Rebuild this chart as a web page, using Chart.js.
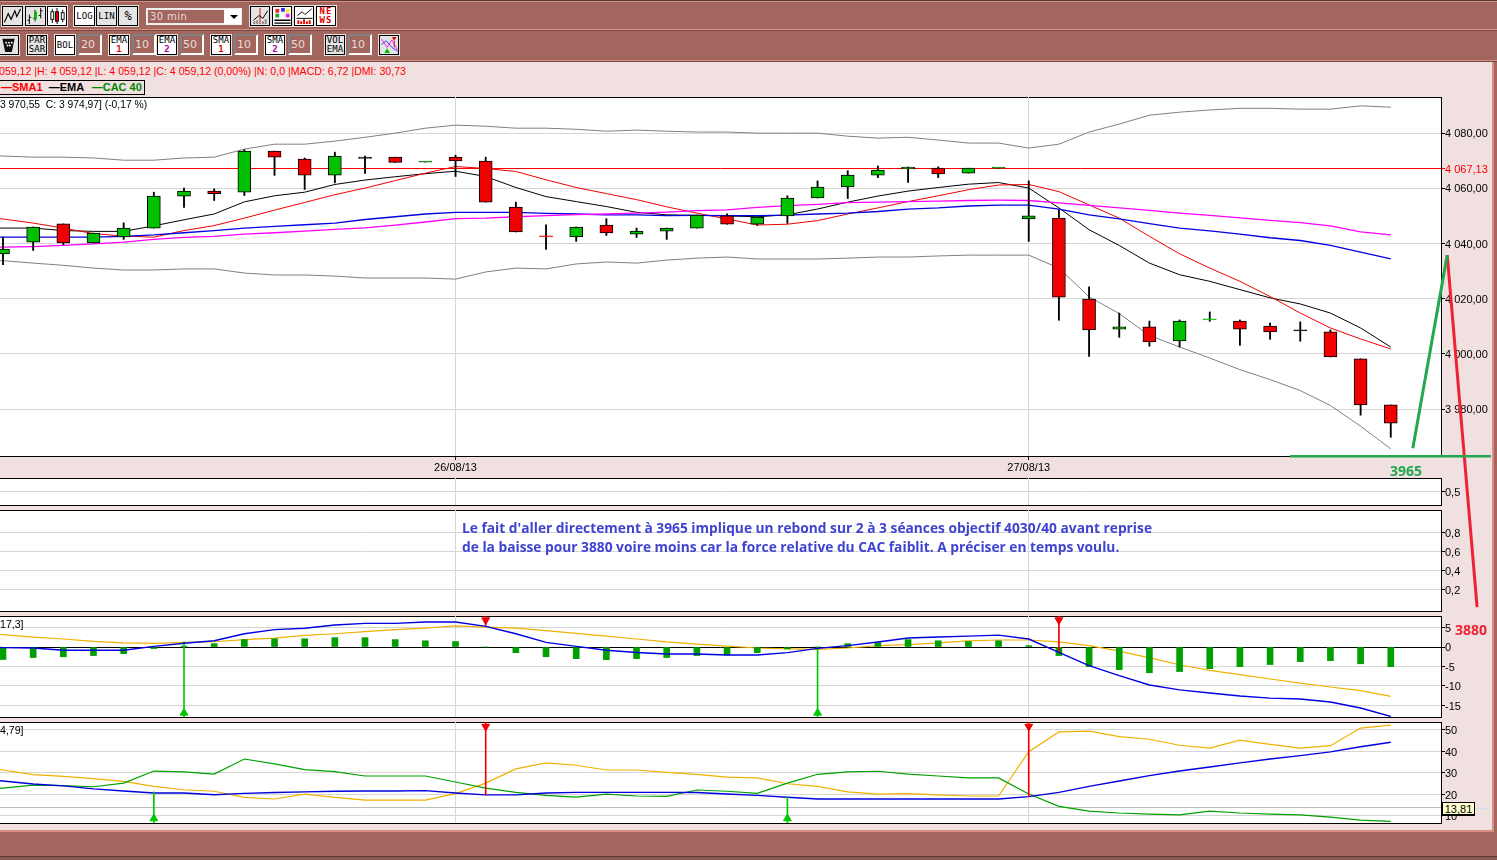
<!DOCTYPE html>
<html><head><meta charset="utf-8">
<style>
html,body{margin:0;padding:0;width:1497px;height:860px;overflow:hidden;background:#f0e0e0;font-family:"Liberation Sans",Arial,sans-serif;font-size:10.6px}
.abs,canvas{position:absolute}
.t{position:absolute;white-space:pre;line-height:13px}
.btn{position:absolute;box-sizing:border-box;border:1px solid #000;box-shadow:0 0 0 1px #e8e0dc;background:#fff;font:9px/9px "DejaVu Sans Mono",monospace;color:#000;text-align:center;display:flex;align-items:center;justify-content:center;flex-direction:column}
.inp{position:absolute;box-sizing:border-box;border:2px solid;border-color:#808080 #fff #fff #808080;background:#a2665e;color:#eadcd8;font:11px/17px "DejaVu Sans",sans-serif;padding-left:1px}
.panel{position:absolute;left:-2px;width:1444px;box-sizing:border-box;border:1px solid #000;background:#fff}
</style>
<script src="https://cdn.jsdelivr.net/npm/chart.js@4/dist/chart.umd.min.js"></script>
</head><body>
<script>
// ---- Data ----
const dateLabels = ['26/08/13','27/08/13'];
const dateIndex = [15,34];
const opens = [4036.2,4040.5,4047.1,4040.2,4042.4,4045.6,4057.2,4059.0,4058.6,4073.5,4070.6,4064.8,4070.8,4071.3,4069.5,4071.3,4069.9,4053.2,4042.4,4042.4,4046.7,4043.4,4044.5,4045.6,4050.0,4047.0,4050.0,4056.5,4060.5,4064.8,4067.0,4067.3,4065.5,4067.3,4048.9,4049.2,4019.9,4009.0,4009.8,4004.7,4012.3,4011.9,4010.1,4008.7,4008.0,3998.2,3981.5];
const closes = [4038.0,4046.0,4040.2,4043.8,4045.6,4057.2,4059.0,4058.1,4073.5,4071.3,4064.8,4071.7,4071.3,4069.4,4069.5,4069.9,4055.0,4044.2,4042.4,4046.0,4043.8,4044.5,4045.6,4050.3,4047.0,4049.6,4056.5,4060.5,4064.8,4066.6,4067.7,4065.2,4067.3,4067.3,4050.0,4020.6,4008.7,4009.8,4004.3,4011.9,4012.3,4009.0,4008.0,4008.3,3998.9,3981.5,3974.9];
const highs = [4042.2,4046.0,4047.1,4043.8,4047.5,4058.6,4060.1,4059.8,4074.0,4073.5,4071.0,4073.1,4071.7,4071.3,4069.5,4072.0,4071.3,4055.0,4046.8,4046.0,4049.0,4045.6,4045.6,4050.3,4050.8,4049.6,4057.3,4062.7,4066.4,4068.1,4067.7,4067.8,4067.3,4067.3,4062.7,4052.1,4024.3,4014.8,4011.9,4012.3,4015.2,4012.3,4011.2,4011.6,4008.7,3998.2,3981.5];
const lows = [4032.3,4037.5,4039.6,4040.2,4041.5,4045.6,4053.1,4055.6,4057.4,4064.7,4059.6,4062.0,4065.4,4069.4,4069.5,4064.3,4055.0,4044.2,4037.9,4040.8,4042.9,4042.2,4041.5,4045.6,4047.0,4046.6,4047.3,4056.5,4056.3,4063.9,4062.1,4063.9,4065.5,4067.3,4040.8,4012.2,3999.1,4006.0,4002.8,4002.5,4011.8,4003.1,4005.3,4004.6,3998.9,3977.8,3969.8];
const dojiIndex = [12,14,18,33,40,43];
const dojiColor = ['#000000','#008000','#ff0000','#008000','#00c000','#000000'];
const bollUpper = [4071.7,4071.3,4071.3,4071.0,4070.2,4070.2,4071.0,4071.3,4074.2,4076.0,4076.0,4077.1,4078.5,4080.0,4081.8,4082.9,4082.5,4081.8,4081.8,4081.4,4080.7,4081.1,4080.7,4080.4,4080.4,4080.0,4080.0,4080.0,4078.9,4078.2,4078.5,4077.5,4076.4,4076.4,4074.6,4076.0,4080.4,4083.3,4086.5,4087.6,4088.4,4089.0,4089.0,4088.7,4088.7,4089.9,4089.4];
const bollLower = [4033.8,4032.9,4032.1,4031.1,4030.4,4030.4,4030.8,4030.8,4029.3,4028.6,4028.6,4028.2,4027.5,4027.5,4027.5,4027.1,4029.7,4031.1,4030.8,4032.6,4033.3,4032.9,4034.0,4034.7,4035.1,4034.4,4034.4,4034.4,4034.7,4035.1,4035.1,4035.5,4035.8,4035.8,4035.8,4031.1,4020.7,4014.6,4006.7,4002.5,3998.5,3994.3,3990.7,3986.7,3981.3,3973.8,3965.6];
const sma1 = [4048.9,4047.4,4045.6,4043.6,4042.7,4042.3,4044.7,4046.5,4049.2,4052.1,4054.9,4057.7,4060.1,4062.8,4065.5,4067.9,4067.2,4066.1,4063.1,4060.3,4058.1,4055.9,4053.3,4051.0,4048.9,4046.7,4047.0,4048.3,4050.7,4052.9,4055.2,4057.3,4059.5,4061.2,4061.4,4058.8,4054.0,4049.2,4042.6,4036.3,4031.1,4026.3,4020.8,4014.8,4009.4,4005.4,4001.8];
const ema1 = [4045.6,4045.6,4044.7,4044.4,4044.4,4046.4,4048.6,4050.7,4055.1,4057.3,4058.6,4061.4,4063.0,4064.2,4065.3,4066.2,4064.3,4060.3,4057.0,4055.2,4053.4,4051.3,4050.4,4050.2,4050.0,4049.7,4050.4,4052.5,4055.0,4057.2,4059.0,4060.3,4061.5,4062.1,4060.1,4052.9,4045.0,4039.3,4032.9,4028.7,4026.3,4023.3,4020.3,4018.1,4014.8,4009.4,4002.5];
const ema2 = [4042.3,4042.3,4042.3,4042.3,4042.6,4043.1,4043.9,4044.7,4045.6,4046.2,4046.8,4047.4,4048.7,4049.7,4050.7,4051.3,4051.3,4051.3,4050.9,4050.7,4050.4,4050.4,4050.1,4050.2,4050.1,4050.1,4050.3,4050.7,4051.0,4051.6,4052.5,4052.9,4053.6,4053.9,4053.9,4052.5,4050.4,4048.9,4047.2,4045.6,4044.6,4043.4,4042.1,4041.1,4039.3,4036.9,4034.4];
const sma2 = [4038.7,4038.9,4039.3,4039.9,4040.5,4041.5,4042.2,4042.6,4043.4,4043.9,4044.5,4045.1,4045.7,4046.7,4047.8,4049.0,4049.2,4049.7,4050.1,4050.5,4050.7,4051.0,4051.4,4051.9,4052.2,4053.1,4053.7,4054.2,4054.8,4055.0,4055.2,4055.4,4055.6,4055.7,4055.6,4054.7,4053.8,4052.9,4052.0,4051.0,4050.2,4049.3,4048.4,4047.6,4046.4,4044.2,4043.1];
const priceTicks = [3980,4000,4020,4040,4060,4067.13,4080];
const macdHist = [-3.2,-2.7,-2.5,-2.2,-1.7,-0.4,0.25,0.85,1.9,2.1,2.1,2.4,2.4,1.9,1.6,1.4,0,-1.45,-2.5,-3.0,-3.25,-3.0,-2.7,-2.2,-2.05,-1.45,-0.5,0,0.85,1.1,1.9,1.6,1.4,1.6,0.35,-2.2,-5.05,-5.8,-6.6,-6.3,-5.55,-5.05,-4.5,-3.75,-3.5,-4.3,-5.05];
const macdLine = [-0.15,-0.25,-0.85,-0.85,-0.85,0.15,0.95,1.6,3.4,4.45,4.8,5.65,6.05,6.05,6.4,6.4,5.3,3.4,1.2,0.15,-0.85,-1.4,-1.8,-1.8,-2.05,-2.05,-1.45,-0.35,0.35,1.3,2.3,2.55,2.8,3.05,2.05,-1.4,-4.8,-7.35,-9.75,-11.0,-11.8,-12.55,-13.1,-13.35,-14.1,-15.65,-17.8];
const macdSignal = [3.15,2.55,2.05,1.45,1.05,0.95,1.2,1.35,1.9,2.3,3.0,3.4,3.95,4.45,4.85,5.4,5.1,4.85,4.2,3.5,2.8,2.05,1.3,0.75,0.25,-0.25,-0.5,-0.6,-0.25,0.35,0.6,1.05,1.55,1.8,1.8,1.3,0.35,-1.05,-2.8,-4.55,-6.0,-7.1,-8.2,-9.25,-10.25,-11.2,-12.65];
const macdTicks = [-15,-10,-5,0,5];
const macdBuyIndex = [6,27], macdBuyStem = [1.3,0];
const macdSellIndex = [16,35], macdSellStem = [5.3,-1.4];
const dmiAdx = [26.3,24.9,24.0,22.6,21.6,20.7,20.7,19.9,20.5,20.9,21.2,21.5,21.6,21.6,21.8,20.7,19.8,19.8,20.7,21.0,21.0,21.0,21.0,20.9,20.2,19.6,18.7,17.9,17.9,17.9,17.9,17.9,17.9,17.9,19.0,21.0,23.8,26.3,28.8,30.9,32.8,34.7,36.5,38.1,39.8,42.2,44.3];
const dmiMinus = [31.4,29.2,28.4,27.4,26.1,23.8,22.2,21.5,18.7,17.9,20.2,18.7,17.4,17.4,17.4,20.4,25.3,31.9,34.7,33.6,31.4,31.4,30.3,29.4,28.1,27.7,25.0,23.8,21.2,20.2,20.4,19.8,19.3,19.3,39.9,49.1,49.5,46.9,45.7,42.9,41.6,45.3,43.3,41.6,42.7,50.9,52.3];
const dmiPlus = [23.0,24.4,24.1,23.6,25.3,30.9,30.5,29.5,36.5,34.2,31.6,30.6,28.6,28.6,28.6,25.8,23.0,21.0,19.6,18.8,20.2,19.3,19.1,22.1,21.5,20.5,25.3,29.4,30.5,30.8,29.5,28.6,27.7,27.7,20.2,14.5,12.3,11.4,10.9,10.5,12.3,11.4,10.9,10.5,9.5,8.1,7.5];
const dmiTicks = [10,13.81,20,30,40,50];
const dmiBuyIndex = [5,26], dmiBuyStem = [21.2,18.8];
const dmiSellIndex = [16,34], dmiSellStem = [19.8,19.0];
const bandTicks = [0.5];
const ratioTicks = [0.2,0.4,0.6,0.8];
// value of each line one bar before the first candle, just off the left edge
const priorIndex = -1;
const prior = {bollUpper:4072.2, bollLower:4033.2, sma1:4050.2, ema1:4045.6, ema2:4042.3, sma2:4038.5, macdLine:0, macdSignal:3.7, dmiAdx:27.5, dmiMinus:33, dmiPlus:22.5};
// hand-drawn projection on the price scale (index, price)
const greenIdx = [46.73,47.87], greenVal = [3966.0,4035.9];
const redIdx = [47.87,48.86], redVal = [4035.9,3908.5];
const supportIdx = [42.66,49.32], supportVal = [3963.1,3963.1];

// ---- Helpers ----
Chart.defaults.animation = false;
Chart.defaults.font.family = '"Liberation Sans",Arial,sans-serif';
Chart.defaults.font.size = 11;
Chart.defaults.color = '#000';
const XMIN = -0.0994, XMAX = 47.665, GRID = '#d6d6d6', PAD = 10;
const idx = opens.map((_, i) => i);
const pts = (xs, ys) => xs.map((x, i) => ({x, y: ys[i]}));
const line = (ys, p, color, w = 1) => ({type:'line', data: [{x:priorIndex,y:p}].concat(pts(idx, ys)), borderColor: color, borderWidth: w, pointRadius: 0, tension: 0, order: 3});
const comma = (v, d) => v.toFixed(d).replace('.', ',');
function stems(xs, from, to, color){
  return {type:'bar', data: xs.map((x,i)=>({x, y:[Math.min(from[i],to),Math.max(from[i],to)]})), backgroundColor: color, barThickness: 1, grouped:false, order: 1};
}
function marks(xs, y, color, rot){
  return {type:'line', data: xs.map(x=>({x,y})), showLine:false, pointStyle:'triangle', pointRadius:4.5, pointRotation:rot, pointBackgroundColor:color, pointBorderColor:color, order:0};
}
function panel(id, top, bottom, min, max, ticks, fmt, datasets, extra = {}){
  const back = document.createElement('div');
  back.className = 'panel';
  back.style.top = top + 'px'; back.style.height = (bottom - top + 1) + 'px';
  document.body.appendChild(back);
  const c = document.createElement('canvas');
  const foot = extra.foot || 0;
  c.id = id; c.width = 1497; c.height = PAD + bottom - top + (foot || PAD);
  c.style.left = '0'; c.style.top = (top - PAD) + 'px';
  document.body.appendChild(c);
  return new Chart(c, {type:'bar', data:{datasets}, options:{
    responsive:false, devicePixelRatio:1, layout:{autoPadding:false, padding:{top:PAD,bottom:foot?0:PAD,left:0,right:0}},
    plugins:{legend:{display:false}, tooltip:{enabled:false}},
    scales:{
      x:{type:'linear', bounds:'data', min:XMIN, max:XMAX, offset:false,
        grid:{offset:false, color:GRID, lineWidth:1, tickLength: foot?4:0, tickColor:'#000', drawTicks:!!foot},
        border:{display:!!foot, color:'#000'},
        afterBuildTicks:a=>{a.ticks = dateIndex.map(v=>({value:v}));},
        ticks:{display:!!foot, autoSkip:false, maxRotation:0, padding:1, callback:v=>dateLabels[dateIndex.indexOf(v)]||''},
        afterFit:s=>{s.height = foot;}},
      y:{type:'linear', position:'right', bounds:'data', min, max,
        grid:{color:extra.gridColor||GRID, tickColor:extra.tickColor||'#000', tickLength:4},
        border:{color:'#000', display:true},
        afterBuildTicks:a=>{a.ticks = ticks.map(v=>({value:v}));},
        ticks:{autoSkip:false, padding:0, labelOffset:1, color:extra.labelColor||'#000', callback:fmt},
        afterFit:s=>{s.width = 56;}}
    }}});
}
const thin = (txt,x,y,css='') => { const d=document.createElement('div'); d.className='t'; d.textContent=txt; d.style.cssText+=`left:${x}px;top:${y}px;${css}`; document.body.appendChild(d); return d; };
const rect = (x,y,w,h,c) => { const d=document.createElement('div'); d.className='abs'; d.style.cssText=`left:${x}px;top:${y}px;width:${w}px;height:${h}px;background:${c}`; document.body.appendChild(d); };

// ---- Window chrome ----
const BR='#a2665e', SAL='#d88e80', DK='#5a3a36';
rect(0,0,1497,62,BR); rect(0,1,1497,1,SAL); rect(0,0,1497,1,DK);
rect(0,29,1497,1,SAL); rect(0,30,1497,1,'#7c4a44'); rect(0,60,1497,1,SAL); rect(0,61,1497,1,'#7c4a44');
rect(0,830,1497,2,SAL); rect(0,832,1497,25,BR); rect(0,856,1497,1,DK); rect(0,857,1497,3,'#8a5a52');
rect(1492,62,2,770,SAL); rect(1494,62,3,770,BR);

// ---- Toolbars ----
function btn(x,y,w,h,html,bg='#fff'){ const d=document.createElement('div'); d.className='btn'; d.style.cssText+=`left:${x}px;top:${y}px;width:${w}px;height:${h}px;background:${bg}`; d.innerHTML=html; document.body.appendChild(d);}
function inp(x,y,txt){ const d=document.createElement('div'); d.className='inp'; d.style.cssText+=`left:${x}px;top:${y}px;width:24px;height:21px`; d.textContent=txt; document.body.appendChild(d);}
const svg=(s)=>`<svg width="19" height="19" viewBox="0 0 19 19">${s}</svg>`;
btn(2,6,21,20,svg('<path d="M1 16 L5 7 L8 13 L12 4 L14 10 L18 2" fill="none" stroke="#000" stroke-width="1.2"/>'),'#e4e4e4');
btn(25,6,21,20,svg('<path d="M3 8V18M3 14H1M3 11H5M9 3V15M9 12H7M9 6H11M15 1V12M15 9H13M15 4H17" stroke="#000"/><rect x="8" y="5" width="3" height="8" fill="#0b0"/>'),'#e4e4e4');
btn(47,6,20,20,svg('<path d="M4 2V17M9 1V18M15 3V16" stroke="#000"/><rect x="2.5" y="5" width="3" height="8" fill="#fff" stroke="#000"/><rect x="7.5" y="5" width="3" height="10" fill="#e00" stroke="#000"/><rect x="13.5" y="6" width="3" height="7" fill="#fff" stroke="#000"/>'));
btn(74,6,21,20,'LOG'); btn(96,6,21,20,'LIN','#e4e4e4'); btn(118,6,20,20,'<span style="font-size:12px">%</span>','#e4e4e4');
const sel=document.createElement('div'); sel.className='abs'; sel.style.cssText='left:146px;top:8px;width:96px;height:17px;box-sizing:border-box;border:2px solid #eee;background:#a2665e;color:#e8dcd8;font:10px/13px "DejaVu Sans",sans-serif;padding-left:2px;letter-spacing:.4px'; sel.textContent='30 min'; document.body.appendChild(sel);
rect(224,9,17,15,'#fff'); const ar=document.createElement('div'); ar.className='abs'; ar.style.cssText='left:230px;top:15px;border-left:4px solid transparent;border-right:4px solid transparent;border-top:4px solid #000'; document.body.appendChild(ar);
btn(250,6,20,20,svg('<path d="M9 1V18" stroke="#d00"/><path d="M2 14L8 9L12 12L17 4" fill="none" stroke="#000"/><path d="M3 18V15M6 18V14M12 18V15M15 18V13" stroke="#888" stroke-width="2"/>'),'#e4e4e4');
btn(272,6,20,20,svg('<rect x="2" y="2" width="4" height="4" fill="#e22"/><rect x="8" y="1" width="4" height="4" fill="#33e"/><rect x="13" y="2" width="4" height="4" fill="#ee2"/><rect x="2" y="7" width="4" height="4" fill="#2a2"/><rect x="13" y="7" width="4" height="4" fill="#e2e"/><path d="M1 14H18M1 17H18" stroke="#000" stroke-width="1.5"/>'));
btn(294,6,20,20,svg('<path d="M2 9L7 5L10 8L17 2" fill="none" stroke="#000"/><path d="M1 12H18" stroke="#000"/><path d="M3 18V14M6 18V15M9 18V13M12 18V15M15 18V14" stroke="#e00" stroke-width="2"/>'));
btn(316,6,20,20,'<span style="color:#d00;font-weight:bold;letter-spacing:1px">NE<br>WS</span>');
btn(-3,35,22,20,svg('<path d="M3 3L16 3L13 17H6Z" fill="#111"/><circle cx="7" cy="7" r="1" fill="#fff"/><circle cx="10" cy="7" r="1" fill="#fff"/><circle cx="13" cy="7" r="1" fill="#fff"/><circle cx="8.5" cy="10" r="1" fill="#fff"/><circle cx="11" cy="10" r="1" fill="#fff"/>'),'#e4e4e4');
btn(27,35,20,20,'PAR<br>SAR','#e4e4e4');
btn(55,35,20,20,'BOL'); inp(78,34,'20');
btn(109,35,20,20,'EMA<br><span style="color:#e00;font-weight:bold">1</span>'); inp(132,34,'10');
btn(157,35,20,20,'EMA<br><span style="color:#a0a;font-weight:bold">2</span>'); inp(180,34,'50');
btn(211,35,20,20,'SMA<br><span style="color:#e00;font-weight:bold">1</span>'); inp(234,34,'10');
btn(265,35,20,20,'SMA<br><span style="color:#a0a;font-weight:bold">2</span>'); inp(288,34,'50');
btn(325,35,20,20,'VOL<br>EMA','#e4e4e4'); inp(348,34,'10');
btn(379,35,20,20,svg('<path d="M1 3L7 12L12 4L18 15" fill="none" stroke="#e2e"/><path d="M1 9L6 5L12 12L18 16" fill="none" stroke="#33e"/><path d="M12 1H17L14.5 5Z" fill="#e00"/><path d="M14.5 5V12" stroke="#e00"/><path d="M4 18H10L7 13Z" fill="#0b0"/>'),'#e4e4e4');

// ---- Header text ----
thin('059,12 |H: 4 059,12 |L: 4 059,12 |C: 4 059,12 (0,00%) |N: 0,0 |MACD: 6,72 |DMI: 30,73',-1,65,'color:#f00');
const leg=document.createElement('div'); leg.className='abs';
leg.style.cssText='left:-2px;top:80px;width:147px;height:15px;box-sizing:border-box;border:1px solid #000;white-space:pre;font:bold 11px/13px "Liberation Sans",sans-serif;padding-left:2px';
leg.innerHTML='<span style="color:#f00">&#8212;SMA1</span> <span style="color:#000;margin-left:3px">&#8212;EMA</span> <span style="color:#080;margin-left:5px">&#8212;CAC 40</span>';
document.body.appendChild(leg);

// ---- Main price panel ----
const isDoji = i => dojiIndex.includes(i);
const bodyFill = idx.map(i => isDoji(i) ? dojiColor[dojiIndex.indexOf(i)] : (closes[i] > opens[i] ? '#00c000' : '#f00000'));
const bodyEdge = idx.map(i => isDoji(i) ? dojiColor[dojiIndex.indexOf(i)] : '#000000');
const isRes = c => c.tick && c.tick.value === 4067.13;
panel('price',97,456,3963.0,4093.1,priceTicks,
  v => v === 4067.13 ? '4 067,13' : comma(v,2).replace(/^(\d)(\d{3})/,'$1 $2'),
  [
   line(bollUpper,prior.bollUpper,'#808080'), line(bollLower,prior.bollLower,'#808080'),
   line(sma2,prior.sma2,'#ff00ff',1.3), line(ema2,prior.ema2,'#0000e0',1.3), line(sma1,prior.sma1,'#f00000'), line(ema1,prior.ema1,'#000000'),
   {type:'bar', data: pts(idx, idx.map(i=>[lows[i],highs[i]])), backgroundColor:'#000', barThickness:1.2, grouped:false, order:2},
   {type:'bar', data: pts(idx, idx.map(i=>{const a=Math.min(opens[i],closes[i]),b=Math.max(opens[i],closes[i]);return [a,Math.max(b,a+0.4)];})),
    backgroundColor: bodyFill, borderColor: bodyEdge, borderWidth:1, borderSkipped:false, barThickness:13, grouped:false, order:1}
  ],
  {foot:20, gridColor:c=>isRes(c)?'#ff0000':GRID, tickColor:c=>isRes(c)?'#ff0000':'#000', labelColor:c=>isRes(c)?'#ff0000':'#000'});
thin('3 970,55  C: 3 974,97] (-0,17 %)',0,98,'font-size:10.3px');

// ---- Empty indicator panels ----
panel('band',478,505,0,1,bandTicks,v=>comma(v,1),[]);
panel('ratio',510,611,-0.0207,1.038,ratioTicks,v=>comma(v,1),[]);

// ---- MACD panel ----
panel('macd',616,717,-17.95,7.95,macdTicks,v=>String(v),
  [
   {type:'bar', data: pts(idx, macdHist), backgroundColor:'#00a000', barThickness:6, grouped:false, order:2},
   line(macdSignal,prior.macdSignal,'#f0b000',1.2), Object.assign(line(macdLine,prior.macdLine,'#0000e0',1.4),{order:1}),
   stems(macdBuyIndex,macdBuyStem,-17.95,'#00c800'), stems(macdSellIndex,macdSellStem,7.95,'#f00000'),
   marks(macdBuyIndex,-16.9,'#00c800',0), marks(macdSellIndex,6.9,'#f00000',180)
  ],
  {gridColor:c=>c.tick&&c.tick.value===0?'#000':GRID});
thin('17,3]',0,618);

// ---- DMI panel ----
panel('dmi',722,823,6.74,53.72,dmiTicks,v=>v===13.81?'':String(v),
  [
   line(dmiPlus,prior.dmiPlus,'#00a000',1.2), line(dmiMinus,prior.dmiMinus,'#f0b000',1.2), Object.assign(line(dmiAdx,prior.dmiAdx,'#0000e0',1.4),{order:2}),
   stems(dmiBuyIndex,dmiBuyStem,6.74,'#00c800'), stems(dmiSellIndex,dmiSellStem,53.72,'#f00000'),
   marks(dmiBuyIndex,8.8,'#00c800',0), marks(dmiSellIndex,51.6,'#f00000',180)
  ],
  {gridColor:c=>c.tick&&c.tick.value===13.81?'#bbbbbb':GRID});
thin('4,79]',0,724);
rect(1474,808,17,1,'#c8e4e4');
const tip=document.createElement('div'); tip.className='abs'; tip.style.cssText='left:1442px;top:802px;width:33px;height:14px;box-sizing:border-box;border:1px solid #000;border-bottom-width:2px;background:#ffffcc;font:11px/12px "Liberation Sans",sans-serif;text-align:center'; tip.textContent='13,81'; document.body.appendChild(tip);

// ---- Commentary and projection overlay ----
const NOTE='font:bold 13.75px/17px "Open Sans",sans-serif;color:#3f44d0;';
thin("Le fait d'aller directement à 3965 implique un rebond sur 2 à 3 séances objectif 4030/40 avant reprise",462,519,NOTE);
thin("de la baisse pour 3880 voire moins car la force relative du CAC faiblit. A préciser en temps voulu.",462,538,NOTE);
thin('3965',1390,462,'font:bold 14px/17px "Open Sans",sans-serif;color:#22a950');
thin('3880',1455,621,'font:bold 14px/17px "Open Sans",sans-serif;color:#ee2233');
const ov=document.createElement('canvas'); ov.width=1497; ov.height=860; ov.style.cssText='left:0;top:0;z-index:5;pointer-events:none'; document.body.appendChild(ov);
new Chart(ov,{type:'line',data:{datasets:[
  {data:pts(supportIdx,supportVal),borderColor:'#22a950',borderWidth:2.6,pointRadius:0},
  {data:pts(greenIdx,greenVal),borderColor:'#22a950',borderWidth:3,pointRadius:0},
  {data:pts(redIdx,redVal),borderColor:'#ee2233',borderWidth:3,pointRadius:0}
]},options:{responsive:false,devicePixelRatio:1,layout:{autoPadding:false,padding:0},plugins:{legend:{display:false},tooltip:{enabled:false}},
  scales:{x:{type:'linear',display:false,min:-0.0994,max:49.52},y:{type:'linear',display:false,min:3816.95,max:4128.25}}}});
</script>
</body></html>
